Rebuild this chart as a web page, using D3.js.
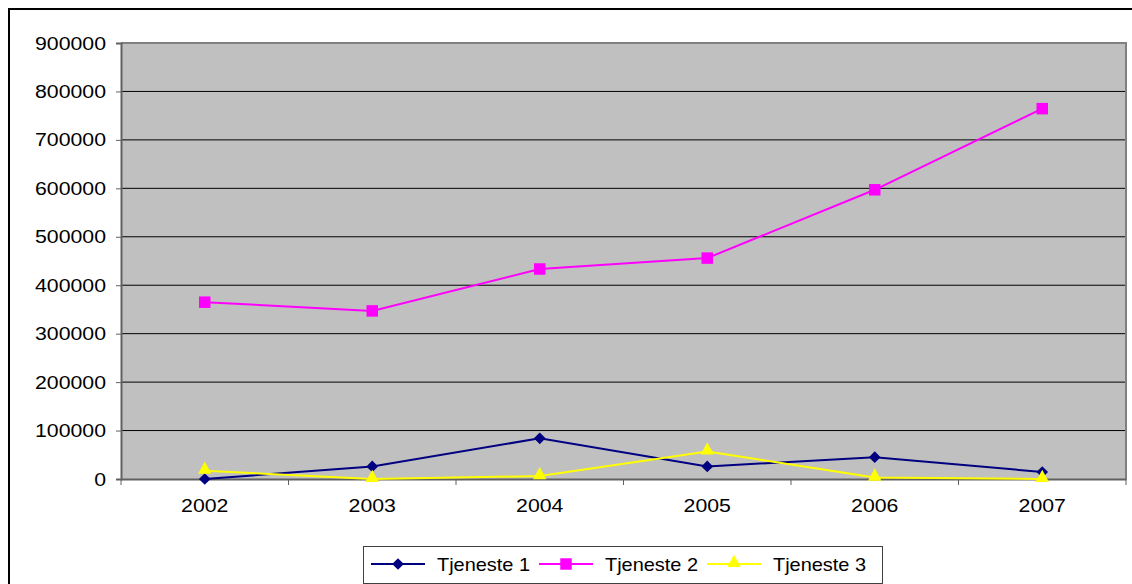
<!DOCTYPE html>
<html>
<head>
<meta charset="utf-8">
<script src="https://cdn.jsdelivr.net/npm/d3@7"></script>
<style>
  body { margin: 0; background: #fff; }
  text { font-family: "Liberation Sans", Arial, sans-serif; fill: #000; }
</style>
</head>
<body>
<div id="chart"></div>
<script>
// data
var years = ["2002", "2003", "2004", "2005", "2006", "2007"];
var tjeneste1 = [0, 26000, 84000, 26000, 45000, 14500];
var tjeneste2 = [365000, 347000, 433500, 456000, 597000, 764500];
var tjeneste3 = [17000, 0, 6000, 57000, 3000, 0];
var yTicks = [0, 100000, 200000, 300000, 400000, 500000, 600000, 700000, 800000, 900000];
var seriesNames = ["Tjeneste 1", "Tjeneste 2", "Tjeneste 3"];

var W = 1132, H = 584;
var margin = {top: 43, right: 6, bottom: 105, left: 121};
var width = W - margin.left - margin.right,
    height = H - margin.top - margin.bottom;
var sx = 1.12; // text in the picture is stretched a bit sideways
var lsx = 1.05; // legend text is a little narrower
var fs = 19;

var svg = d3.select("#chart").append("svg")
    .attr("width", W).attr("height", H);

// outer chart border (right/bottom cut off by the picture)
svg.append("rect")
    .attr("x", 9).attr("y", 9)
    .attr("width", W + 20).attr("height", H + 20)
    .attr("fill", "none").attr("stroke", "#000").attr("stroke-width", 2);

var g = svg.append("g")
    .attr("transform", "translate(" + margin.left + "," + margin.top + ")");

var x = d3.scaleBand().domain(years).range([0, width]);
var y = d3.scaleLinear().domain([0, 900000]).range([height, 0]);

// plot area
g.append("rect")
    .attr("width", width).attr("height", height)
    .attr("fill", "#c0c0c0");

// gridlines
g.append("g")
    .selectAll("line")
    .data(yTicks.filter(function (d) { return d > 0 && d < 900000; }))
    .enter().append("line")
      .attr("x1", 0).attr("x2", width)
      .attr("y1", function (d) { return y(d); })
      .attr("y2", function (d) { return y(d); })
      .attr("stroke", "#000").attr("stroke-width", 1);

// top + right border of plot area
g.append("path")
    .attr("d", "M0,0H" + width + "V" + height)
    .attr("fill", "none").attr("stroke", "#808080").attr("stroke-width", 2);

// Y axis
var yAxis = g.append("g")
    .call(d3.axisLeft(y).tickValues(yTicks).tickSize(5).tickPadding(16).tickFormat(d3.format("d")));
yAxis.select(".domain").attr("stroke", "#606060").attr("stroke-width", 2);
yAxis.selectAll(".tick line").attr("stroke", "#606060");
yAxis.selectAll(".tick text")
    .attr("font-size", fs)
    .attr("x", -15 / sx)
    .attr("transform", "scale(" + sx + ",1)");

// X axis with ticks between categories
var xAxis = g.append("g")
    .attr("transform", "translate(0," + height + ")")
    .call(d3.axisBottom(x).tickSize(0).tickPadding(0));
xAxis.select(".domain").attr("stroke", "#606060").attr("stroke-width", 2);
xAxis.selectAll(".tick text")
    .attr("font-size", fs)
    .attr("dy", 0)
    .attr("y", 33.5)
    .attr("transform", "scale(" + sx + ",1)");
g.append("g")
    .attr("transform", "translate(0," + height + ")")
    .selectAll("line")
    .data(years.concat(["end"]))
    .enter().append("line")
      .attr("x1", function (d, i) { return i * x.step(); })
      .attr("x2", function (d, i) { return i * x.step(); })
      .attr("y1", 0).attr("y2", 6)
      .attr("stroke", "#606060").attr("stroke-width", 1);

var cx = function (d, i) { return x(years[i]) + x.bandwidth() / 2; };
var line = d3.line()
    .x(cx)
    .y(function (d) { return y(d); });

var series = [
  {name: seriesNames[0], values: tjeneste1, color: "#000080", shape: "diamond"},
  {name: seriesNames[1], values: tjeneste2, color: "#ff00ff", shape: "square"},
  {name: seriesNames[2], values: tjeneste3, color: "#ffff00", shape: "triangle"}
];

function markerPath(shape) {
  if (shape === "diamond") return d3.symbol().type(d3.symbolSquare).size(68)();
  if (shape === "square") return d3.symbol().type(d3.symbolSquare).size(132)();
  return d3.symbol().type(d3.symbolTriangle).size(78)();
}
function markerTransform(shape, px, py) {
  if (shape === "diamond") return "translate(" + px + "," + py + ") rotate(45)";
  if (shape === "triangle") return "translate(" + px + "," + (py - 1) + ") scale(1,1.06)";
  return "translate(" + px + "," + py + ")";
}

series.forEach(function (s) {
  g.append("path")
      .datum(s.values)
      .attr("d", line)
      .attr("fill", "none")
      .attr("stroke", s.color)
      .attr("stroke-width", 2);
  g.append("g")
    .selectAll("path")
    .data(s.values)
    .enter().append("path")
      .attr("d", markerPath(s.shape))
      .attr("transform", function (d, i) { return markerTransform(s.shape, cx(d, i), y(d)); })
      .attr("fill", s.color);
});

// legend
var legend = svg.append("g");
legend.append("rect")
    .attr("x", 363.5).attr("y", 546.5)
    .attr("width", 519).attr("height", 37)
    .attr("fill", "#fff").attr("stroke", "#404040").attr("stroke-width", 1);

var item = legend.selectAll(".item")
    .data(series)
    .enter().append("g")
      .attr("class", "item")
      .attr("transform", function (d, i) { return "translate(" + (371 + i * 168) + ",564)"; });
item.append("line")
    .attr("x1", 0).attr("x2", 54)
    .attr("stroke", function (d) { return d.color; })
    .attr("stroke-width", 2);
item.append("path")
    .attr("d", function (d) { return markerPath(d.shape); })
    .attr("transform", function (d) { return markerTransform(d.shape, 27, 0); })
    .attr("fill", function (d) { return d.color; });
item.append("text")
    .attr("x", 66 / lsx)
    .attr("y", 6.5)
    .attr("font-size", fs)
    .attr("transform", "scale(" + lsx + ",1)")
    .text(function (d) { return d.name; });
</script>
</body>
</html>
